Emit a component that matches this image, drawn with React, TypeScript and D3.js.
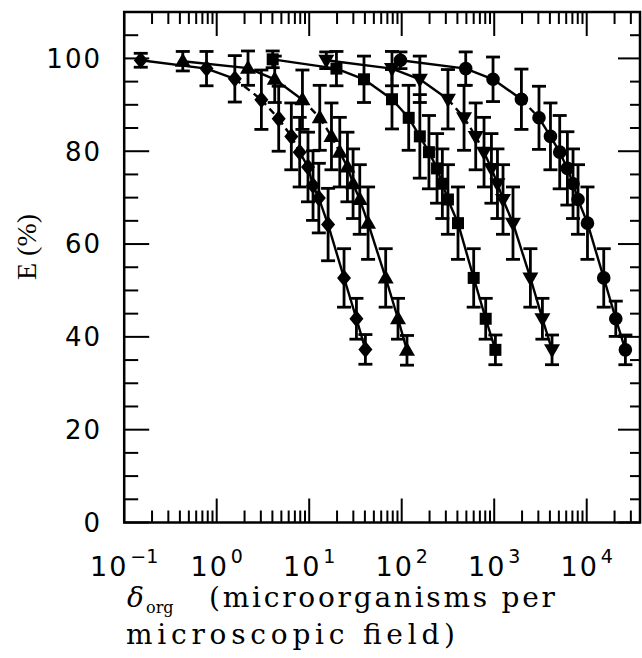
import React, { useEffect, useRef } from "react";
import * as d3 from "d3";

const W = 642;
const H = 658;

// delta_org (microorganisms per microscopic field)
const diamondX = [0.151, 0.776, 1.57, 3.04, 4.68, 6.41, 7.89, 9.7, 11.0, 12.7, 16.0, 23.8, 32.4, 40.5];
const triUpX = [0.43, 2.18, 4.24, 8.45, 13.0, 17.4, 21.4, 25.9, 29.8, 35.2, 43.3, 67.1, 91.2, 114];
const squareX = [4.03, 19.7, 39.1, 78.5, 119, 157, 197, 241, 275, 316, 406, 600, 809, 1030];
const triDownX = [15.3, 78.5, 157, 316, 472, 631, 776, 933, 1084, 1245, 1596, 2460, 3319, 4217];
const circleX = [96.8, 492, 971, 1968, 3048, 4055, 5105, 6180, 7112, 8054, 10190, 15280, 20610, 26180];

// E (%)
const diamondE = [99.6, 97.8, 95.6, 91.1, 87.0, 83.2, 79.8, 76.6, 72.6, 69.9, 64.2, 52.7, 43.9, 37.3];
const triUpE = [99.4, 97.9, 95.5, 91.1, 87.2, 83.2, 79.8, 76.6, 73.0, 69.6, 64.5, 52.7, 43.9, 37.1];
const squareE = [99.8, 97.8, 95.5, 91.2, 87.2, 83.2, 79.8, 76.3, 73.0, 69.6, 64.5, 52.7, 43.9, 37.2];
const triDownE = [99.6, 97.8, 95.5, 91.2, 87.2, 83.2, 79.8, 76.3, 73.0, 69.6, 64.5, 52.7, 43.9, 37.2];
const circleE = [99.6, 97.8, 95.5, 91.2, 87.2, 83.2, 79.8, 76.3, 73.0, 69.6, 64.5, 52.7, 43.9, 37.2];

// +/- error on E
const diamondErr = [1.5, 3.7, 5.0, 6.4, 7.0, 7.2, 7.5, 7.5, 7.5, 7.5, 7.8, 6.3, 4.4, 3.2];
const triUpErr = [2.1, 3.7, 5.0, 6.4, 7.0, 7.2, 7.5, 7.5, 7.5, 7.5, 7.8, 6.3, 4.4, 3.2];
const squareErr = [1.8, 3.7, 5.0, 6.4, 7.0, 9.0, 7.9, 7.5, 7.5, 7.5, 7.8, 6.3, 4.4, 3.2];
const triDownErr = [1.8, 3.7, 5.0, 6.4, 7.0, 7.2, 7.5, 7.5, 7.5, 7.5, 7.8, 6.3, 4.4, 3.2];
const circleErr = [1.8, 3.6, 4.8, 6.5, 6.8, 7.2, 7.9, 7.9, 7.5, 7.5, 7.8, 6.3, 3.8, 3.2];

const yTicks = [0, 20, 40, 60, 80, 100];
const xDecades = [-1, 0, 1, 2, 3, 4];

// marker outlines, centred on 0,0
const shapes: Record<string, string> = {
  diamond: "M0,-8.5L7,0L0,8.5L-7,0Z",
  triUp: "M0,-8.5L8,5.5L-8,5.5Z",
  triDown: "M0,8.5L8,-5.5L-8,-5.5Z",
  square: "M-6,-6H6V6H-6Z",
  circle: "M6.8,0A6.8,6.8 0 1,1 -6.8,0A6.8,6.8 0 1,1 6.8,0Z",
};

const series = [
  { shape: "diamond", xs: diamondX, es: diamondE, err: diamondErr, dashed: [2, 6] },
  { shape: "triUp", xs: triUpX, es: triUpE, err: triUpErr, dashed: [3, 6] },
  { shape: "square", xs: squareX, es: squareE, err: squareErr, dashed: [-1, -1] },
  { shape: "triDown", xs: triDownX, es: triDownE, err: triDownErr, dashed: [3, 6] },
  { shape: "circle", xs: circleX, es: circleE, err: circleErr, dashed: [3, 4] },
];

export default function App() {
  const ref = useRef<SVGSVGElement>(null);

  useEffect(() => {
    const svg = d3.select(ref.current);
    svg.selectAll("*").remove();

    const left = 124.2, right = 640, top = 12, bottom = 522.5;
    const x = d3.scaleLog().domain([0.1, Math.pow(10, 4.576)]).range([left, right]);
    const y = d3.scaleLinear().domain([0, 110]).range([bottom, top]);

    const g = svg.append("g");

    // log ticks top and bottom
    const xt: { v: number; major: boolean }[] = [];
    xDecades.forEach((d) => {
      for (let k = 1; k <= 9; k++) {
        const v = k * Math.pow(10, d);
        if (x(v) <= right - 1) xt.push({ v, major: k === 1 });
      }
    });
    xt.forEach((t) => {
      const px = x(t.v);
      const len = t.major ? 24 : 12;
      g.append("line").attr("x1", px).attr("x2", px).attr("y1", bottom).attr("y2", bottom - len);
      g.append("line").attr("x1", px).attr("x2", px).attr("y1", top).attr("y2", top + len);
    });

    // linear ticks left and right
    d3.range(0, 111, 5).forEach((v) => {
      const py = y(v);
      const major = v % 20 === 0;
      g.append("line").attr("x1", left).attr("x2", left + (major ? 25 : 14)).attr("y1", py).attr("y2", py);
      g.append("line").attr("x1", right).attr("x2", right - (major ? 22 : 10)).attr("y1", py).attr("y2", py);
    });
    g.selectAll("line").attr("stroke", "#000").attr("stroke-width", 2);

    g.append("rect")
      .attr("x", left)
      .attr("y", top)
      .attr("width", right - left)
      .attr("height", bottom - top)
      .attr("fill", "none")
      .attr("stroke", "#000")
      .attr("stroke-width", 2.5);

    // tick labels
    svg
      .append("g")
      .selectAll("text")
      .data(yTicks)
      .enter()
      .append("text")
      .attr("x", 102)
      .attr("y", (d) => y(d))
      .attr("dy", "0.36em")
      .attr("text-anchor", "end")
      .style("font-family", "DejaVu Sans")
      .style("font-size", "26px")
      .style("letter-spacing", "2px")
      .text((d) => String(d));

    const xl = svg
      .append("g")
      .selectAll("text")
      .data(xDecades)
      .enter()
      .append("text")
      .attr("x", (d) => x(Math.pow(10, d)))
      .attr("y", 576)
      .attr("text-anchor", "middle")
      .style("font-family", "DejaVu Sans")
      .style("font-size", "27px");
    xl.append("tspan").style("letter-spacing", "2px").text("10");
    xl.append("tspan")
      .attr("dy", -13)
      .attr("dx", 2)
      .style("font-size", "19px")
      .text((d) => (d < 0 ? "\u2212" + Math.abs(d) : String(d)));

    // axis titles
    svg
      .append("text")
      .attr("transform", "translate(36,247) rotate(-90)")
      .attr("text-anchor", "middle")
      .style("font-family", "Liberation Serif")
      .style("font-size", "28px")
      .text("E (%)");

    const serif = "DejaVu Serif";
    svg.append("text").attr("x", 127).attr("y", 607)
      .style("font-family", serif).style("font-style", "italic").style("font-size", "28px").text("\u03b4");
    svg.append("text").attr("x", 146).attr("y", 613)
      .style("font-family", serif).style("font-size", "16px").text("org");
    svg.append("text").attr("x", 209).attr("y", 607)
      .attr("textLength", 346).attr("lengthAdjust", "spacing")
      .style("font-family", serif).style("font-size", "28px").text("(microorganisms per");
    svg.append("text").attr("x", 126).attr("y", 644)
      .attr("textLength", 329).attr("lengthAdjust", "spacing")
      .style("font-family", serif).style("font-size", "28px").text("microscopic field)");

    // data
    const plot = svg.append("g");
    series.forEach((s) => {
      const pts = s.xs.map((v, i) => ({ px: x(v), py: y(s.es[i]), e: s.err[i], e0: s.es[i] }));

      // error bars
      pts.forEach((p) => {
        const y1 = y(p.e0 + p.e), y2 = y(p.e0 - p.e);
        const eb = plot.append("g").attr("stroke", "#000").attr("stroke-width", 2.8);
        eb.append("line").attr("x1", p.px).attr("x2", p.px).attr("y1", y1).attr("y2", y2);
        eb.append("line").attr("x1", p.px - 7).attr("x2", p.px + 7).attr("y1", y1).attr("y2", y1);
        eb.append("line").attr("x1", p.px - 7).attr("x2", p.px + 7).attr("y1", y2).attr("y2", y2);
      });

      // connecting lines, some stretches drawn dashed
      for (let i = 0; i < pts.length - 1; i++) {
        const dash = i >= s.dashed[0] && i < s.dashed[1];
        plot
          .append("line")
          .attr("x1", pts[i].px)
          .attr("y1", pts[i].py)
          .attr("x2", pts[i + 1].px)
          .attr("y2", pts[i + 1].py)
          .attr("stroke", "#000")
          .attr("stroke-width", 2.4)
          .attr("stroke-dasharray", dash ? "7,5" : null);
      }

      plot
        .selectAll(null)
        .data(pts)
        .enter()
        .append("path")
        .attr("d", shapes[s.shape])
        .attr("transform", (p) => `translate(${p.px},${p.py})`)
        .attr("fill", "#000");
    });
  }, []);

  return (
    <svg
      ref={ref}
      width={W}
      height={H}
      style={{ position: "absolute", left: 0, top: 0, background: "#fff" }}
    ></svg>
  );
}
